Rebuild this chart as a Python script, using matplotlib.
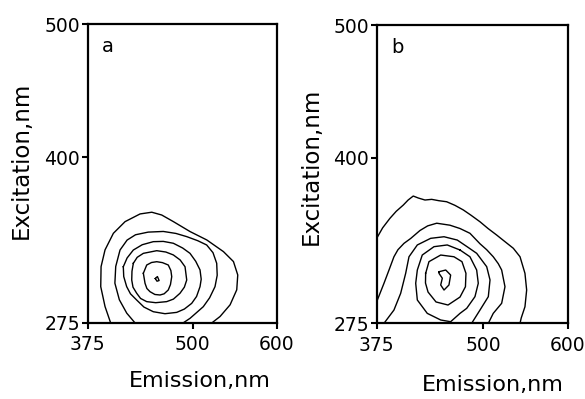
import numpy as np
import matplotlib.pyplot as plt

# contour lines, (emission nm, excitation nm)
a_outer = [(402.5, 275), (395.8, 287.4), (390.7, 302.4), (391.1, 317.5), (395.8, 330.1),
           (405.7, 342.6), (419.6, 351.4), (437.4, 357.2), (451.3, 358.5), (463.1, 356.4),
           (477, 351.4), (496.8, 343.9), (516.6, 337.6), (536.4, 328.8), (548.3, 321.3),
           (553.4, 311.2), (552.2, 300), (544.3, 288.7), (532.4, 279.9), (522.5, 275)]
a_ring2 = [(431.5, 275), (421.6, 282.4), (412.8, 292.5), (407.5, 305), (408.5, 317.6),
           (413.6, 330), (422, 337.5), (432, 341.5), (447, 343.5), (465, 344),
           (480, 342.5), (492.8, 340.1), (506, 337), (516.5, 333.8), (524, 328),
           (528.4, 320), (529, 311), (526.4, 302.4), (520, 294), (512.5, 287.3),
           (503, 282), (496.7, 278.5), (488.4, 275)]
a_ring3 = [(417.5, 317.4), (422, 324), (429.4, 330), (440, 334), (453.1, 336.3),
           (465, 336.5), (476.9, 335.1), (488, 331.5), (496.7, 327.5), (503.5, 321.5),
           (508.6, 315), (510, 308), (508.6, 302.4), (504.5, 295), (498.7, 289.8),
           (490, 285.5), (480.9, 283), (467, 282), (453.1, 283.5), (442, 287),
           (433.4, 292.3), (426, 297), (421.5, 302.4), (418, 310), (417.5, 317.4)]
a_ring4 = [(429.4, 320), (434, 324.5), (441.3, 327.5), (457.2, 329.5), (468, 328.5),
           (476.9, 326.3), (485, 322.5), (490.8, 317.4), (492.8, 307.4), (490, 302),
           (484.8, 297.4), (477, 293), (469, 291.1), (456, 290.3), (445.3, 291.1),
           (438, 293.5), (433.4, 297.4), (429, 302), (427.5, 307.4), (427.8, 314),
           (429.4, 320)]
a_ring5 = [(441.3, 312.5), (445.3, 318.7), (451, 320.6), (457.2, 321.2), (464, 320.5),
           (470.9, 318.7), (474, 314.5), (475, 309.9), (473.5, 304), (470.9, 299.9),
           (466, 297), (461.1, 296.1), (455, 296.5), (449.2, 298.6), (445.5, 301),
           (443.3, 304.9), (441.3, 312.5)]
a_peak = [(455.5, 308.5), (458, 310), (460, 307), (457.5, 306.5), (455.5, 308.5)]

b_outer = [(375, 339.1), (382, 347), (390.6, 354.2), (398, 359.5), (406.3, 364.2),
           (412, 368), (418, 371), (424, 369.5), (431.8, 368), (439.7, 368.5),
           (448, 367.5), (457.3, 366.7), (467, 364), (476.9, 360.5), (486, 356.5),
           (496.5, 351.6), (506, 346.5), (516.1, 341.6), (523.9, 337.6), (535.7, 331.6),
           (543.6, 325.2), (549.4, 312.7), (551.4, 300.1), (549.4, 287.5), (545, 279),
           (543.6, 275)]
b_ring2 = [(375, 291.3), (383.6, 305.2), (389.5, 315.2), (395.3, 325.2), (400, 330.5),
           (407.1, 335.3), (415, 339), (425.9, 345), (435, 348.5), (445.6, 350.5),
           (461.2, 349), (473, 346.5), (484.7, 342.9), (496.5, 335), (504.4, 330.5),
           (512.1, 325.2), (518, 320), (522, 315.2), (525.9, 302.6), (522, 290.1),
           (512.1, 282.5), (506.3, 275)]
b_ring3 = [(383.6, 275), (395.3, 285), (403.2, 297.6), (409.1, 312.7), (413, 325.2),
           (422.8, 334.1), (438.5, 339.1), (454.2, 340.3), (469.8, 337.8), (482, 332.5),
           (492.6, 327.8), (504.4, 317.7), (508.3, 307.7), (506.3, 295.1), (496.5, 285),
           (486.7, 275)]
b_ring4 = [(473, 330.3), (484.7, 325.2), (492.6, 315.2), (494.5, 305.2), (490.6, 295.1),
           (480.9, 286.3), (473, 282.5), (462, 276.2), (450.3, 277.5), (434.5, 282.5),
           (422.8, 292.6), (420.9, 305.2), (422.8, 315.2), (428.6, 326.5), (442.4, 332.8),
           (458, 334.1), (473, 330.3)]
b_ring5 = [(432.6, 312.7), (436.5, 321.5), (450.3, 326.5), (465.9, 325.2), (475.3, 321.5),
           (480, 312.7), (479.4, 302.6), (473, 294.8), (458.9, 288.8), (444.8, 291.1),
           (435.4, 298.6), (432.4, 305.4), (432.6, 312.7)]
b_peak = [(448.3, 313.9), (456.2, 315.2), (462, 311.4), (460, 303.9), (454.2, 300.1),
          (450.3, 303.9), (452.2, 309), (448.3, 312.7), (448.3, 313.9)]

x_ticks = [375, 500, 600]
y_ticks = [275, 400, 500]

# letter, contours, axes rect, ylabel centre, xlabel centre (figure fractions)
panels = [
    ('a', [a_outer, a_ring2, a_ring3, a_ring4, a_ring5, a_peak],
     [0.1496, 0.1905, 0.3239, 0.7481], (0.036, 0.598), (0.342, 0.045)),
    ('b', [b_outer, b_ring2, b_ring3, b_ring4, b_ring5, b_peak],
     [0.6439, 0.1897, 0.3270, 0.7476], (0.532, 0.584), (0.843, 0.035)),
]

fig = plt.figure(figsize=(5.85, 3.99), dpi=100)
for letter, lines, rect, ylab, xlab in panels:
    ax = fig.add_axes(rect)
    for line in lines:
        xs, ys = zip(*line)
        ax.plot(xs, ys, color='black', lw=1.0)
    ax.set_xlim(375, 600)
    ax.set_ylim(275, 500)
    ax.set_xticks(x_ticks)
    ax.set_yticks(y_ticks)
    ax.tick_params(direction='out', length=4.5, width=1.5, labelsize=13.5,
                   colors='black')
    ax.tick_params(axis='y', pad=1.0)
    ax.tick_params(axis='x', pad=4.5)
    for sp in ax.spines.values():
        sp.set_linewidth(1.6)
    fig.text(xlab[0], xlab[1], 'Emission,nm', fontsize=16,
             ha='center', va='center')
    fig.text(ylab[0], ylab[1], 'Excitation,nm', fontsize=16.5, rotation=90,
             ha='center', va='center')
    ax.text(0.108, 0.925, letter, transform=ax.transAxes, fontsize=14,
            ha='center', va='center')

plt.savefig('out.png')
